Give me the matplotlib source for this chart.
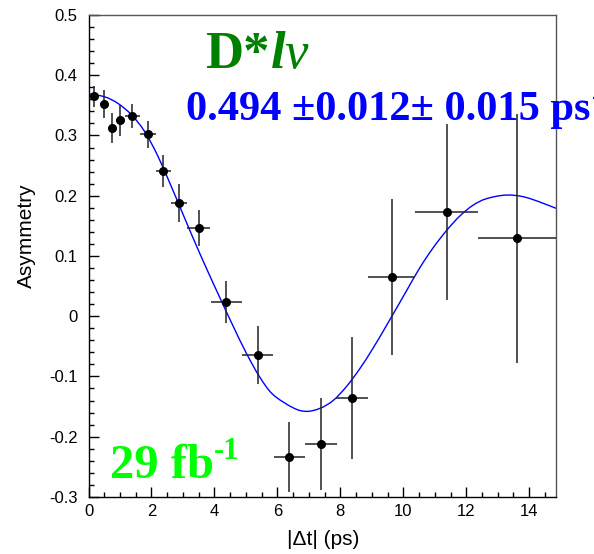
import matplotlib
matplotlib.use("Agg")
import matplotlib.pyplot as plt
from matplotlib.ticker import MultipleLocator, FixedLocator
from matplotlib.path import Path
from matplotlib.patches import PathPatch

# ---- data ----
dt = [0.19, 0.50, 0.75, 1.01, 1.39, 1.88, 2.38, 2.87, 3.50, 4.38, 5.38,
      6.38, 7.38, 8.37, 9.63, 11.38, 13.62]
asym = [0.365, 0.352, 0.313, 0.325, 0.332, 0.302, 0.241, 0.188, 0.146, 0.024,
        -0.064, -0.233, -0.212, -0.136, 0.065, 0.173, 0.129]
asym_err = [0.017, 0.023, 0.025, 0.026, 0.020, 0.022, 0.027, 0.031, 0.030, 0.035,
            0.048, 0.058, 0.077, 0.101, 0.129, 0.146, 0.207]
dt_err = [0.12, 0.12, 0.12, 0.12, 0.24, 0.25, 0.25, 0.25, 0.37, 0.50, 0.49,
          0.50, 0.50, 0.50, 0.75, 1.00, 1.25]

# fitted curve
fit_t = [0.0, 0.52, 0.94, 1.37, 1.79, 2.21, 2.64, 2.90, 3.32, 3.75, 4.17,
         4.59, 5.02, 5.44, 5.86, 6.50, 6.92, 7.35, 7.77, 8.19, 8.62, 9.04,
         9.46, 10.10, 10.52, 10.94, 11.37, 11.79, 12.21, 12.64, 13.27,
         13.91, 14.86]
fit_a = [0.369, 0.364, 0.353, 0.334, 0.306, 0.265, 0.214, 0.182, 0.130,
         0.079, 0.031, -0.016, -0.062, -0.101, -0.130, -0.152, -0.158,
         -0.153, -0.140, -0.117, -0.087, -0.053, -0.016, 0.042, 0.080,
         0.113, 0.142, 0.166, 0.184, 0.195, 0.201, 0.197, 0.179]

x_ticks = [0, 2, 4, 6, 8, 10, 12, 14]
y_ticks = [-0.3, -0.2, -0.1, 0, 0.1, 0.2, 0.3, 0.4, 0.5]
y_tick_labels = ["-0.3", "-0.2", "-0.1", "0", "0.1", "0.2", "0.3", "0.4", "0.5"]

fig = plt.figure(figsize=(5.94, 5.54), dpi=100)
ax = fig.add_axes([0.149, 0.103, 0.787, 0.870])

# smooth curve through the sampled fit points (Catmull-Rom as cubic Beziers)
pts = list(zip(fit_t, fit_a))
verts = [pts[0]]
codes = [Path.MOVETO]
n = len(pts)
for i in range(n - 1):
    p0 = pts[i - 1] if i > 0 else pts[i]
    p1 = pts[i]
    p2 = pts[i + 1]
    p3 = pts[i + 2] if i + 2 < n else pts[i + 1]
    c1 = (p1[0] + (p2[0] - p0[0]) / 6.0, p1[1] + (p2[1] - p0[1]) / 6.0)
    c2 = (p2[0] - (p3[0] - p1[0]) / 6.0, p2[1] - (p3[1] - p1[1]) / 6.0)
    verts += [c1, c2, p2]
    codes += [Path.CURVE4] * 3
curve = PathPatch(Path(verts, codes), fill=False, edgecolor="#0000ff",
                  lw=1.0, zorder=2, transform=ax.transData)
ax.add_patch(curve)

ax.errorbar(dt, asym, yerr=asym_err, xerr=dt_err, fmt="o", color="black",
            ms=5.5, ecolor="#222222", elinewidth=1.1, capsize=0, zorder=3)

ax.set_xlim(0, 14.85)
ax.set_ylim(-0.3, 0.5)
ax.xaxis.set_major_locator(FixedLocator(x_ticks))
ax.xaxis.set_minor_locator(MultipleLocator(0.5))
ax.yaxis.set_major_locator(FixedLocator(y_ticks))
ax.set_yticklabels(y_tick_labels)
ax.yaxis.set_minor_locator(MultipleLocator(0.02))
ax.tick_params(which="both", direction="in", top=False, right=False,
               labelsize=12, pad=8)
ax.tick_params(which="major", length=7, width=1)
ax.tick_params(which="minor", length=3.5, width=1)
for lab in ax.get_xticklabels() + ax.get_yticklabels():
    lab.set_fontfamily("Liberation Sans")
ax.tick_params(axis="x", pad=5)
for s in ax.spines.values():
    s.set_linewidth(1.0)
for s in ["top", "right"]:
    ax.spines[s].set_color("#555555")

fig.text(0.544, 0.026, "|\u0394t| (ps)", ha="center", va="center",
         fontsize=15, family="Liberation Sans")
fig.text(0.044, 0.574, "Asymmetry", ha="center", va="center", rotation=90,
         fontsize=15, family="Liberation Sans")

green = "#008000"
t1 = fig.text(205 / 594, 1 - 68 / 554, "D*", color=green, fontsize=38,
              family="Liberation Serif", weight="bold", va="baseline")
t2 = ax.annotate("l", xy=(1, 0), xycoords=t1, xytext=(1, 0),
                 textcoords="offset points", color=green, fontsize=38,
                 family="Liberation Serif", weight="bold", style="italic",
                 va="bottom", ha="left", annotation_clip=False)
ax.annotate("\u03bd", xy=(1, 0), xycoords=t2, xytext=(-1, 0),
            textcoords="offset points", color=green, fontsize=38,
            family="Liberation Serif", style="italic", va="bottom", ha="left",
            annotation_clip=False)

blue = "#0000ff"
b1 = fig.text(186 / 594, 1 - 120 / 554, "0.494 \u00b10.012\u00b1 0.015 ps",
              color=blue, fontsize=30.5, family="Liberation Serif",
              weight="bold", va="baseline")
ax.annotate("-1", xy=(1, 1), xycoords=b1, xytext=(1, -13),
            textcoords="offset points", color=blue, fontsize=19,
            family="Liberation Serif", weight="bold", va="bottom", ha="left",
            annotation_clip=False)

lime = "#00ff00"
g1 = fig.text(110 / 594, 1 - 478 / 554, "29 fb", color=lime, fontsize=35,
              family="Liberation Serif", weight="bold", va="baseline")
ax.annotate("-1", xy=(1, 1), xycoords=g1, xytext=(0, -16),
            textcoords="offset points", color=lime, fontsize=22,
            family="Liberation Serif", weight="bold", va="bottom", ha="left",
            annotation_clip=False)

fig.savefig("out.png", dpi=100)
